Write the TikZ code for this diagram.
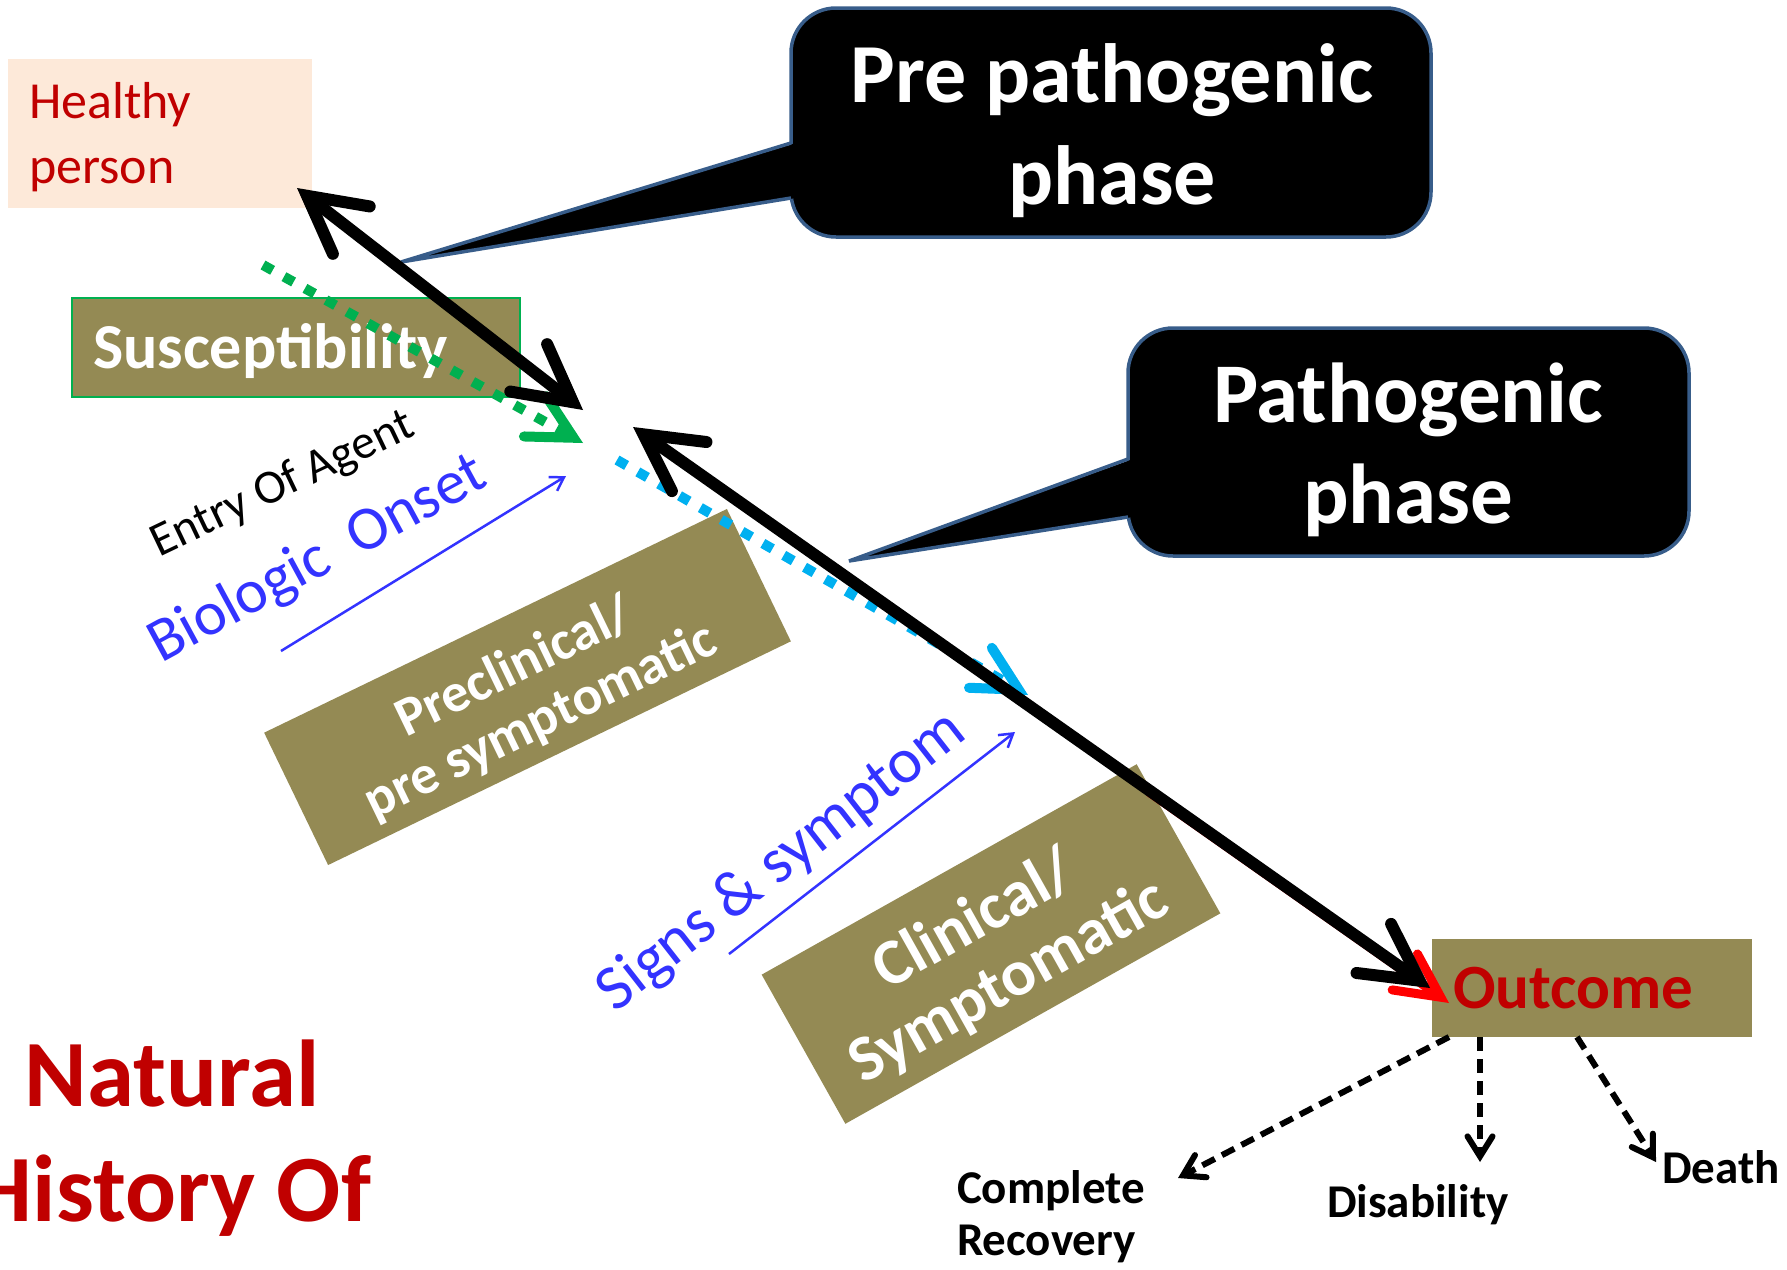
\documentclass[tikz,border=0pt]{standalone}
\usepackage{fontspec}
\setmainfont{Carlito}
\usetikzlibrary{arrows.meta,calc}
\definecolor{nhOlive}{HTML}{948A54}
\definecolor{nhPeach}{HTML}{FDE9D9}
\definecolor{nhRed}{HTML}{C00000}
\definecolor{nhBlue}{HTML}{3333FF}
\definecolor{nhGreen}{HTML}{00B050}
\definecolor{nhCyan}{HTML}{00B0F0}
\definecolor{nhEdge}{HTML}{385D8A}
\newcommand{\nhfs}[2]{\fontsize{#1pt}{#2pt}\selectfont}
\begin{document}
\begin{tikzpicture}[x=1pt,y=-1pt,
  box/.style={inner sep=0pt, outer sep=0pt},
  olivebox/.style={box, fill=nhOlive},
  calloutbox/.style={box, fill=black, draw=nhEdge, line width=3.5pt, rounded corners=45pt},
  calloutedge/.style={draw=nhEdge, line width=3.5pt, line join=miter},
  txt/.style={inner sep=0pt, outer sep=0pt},
  bigarrow/.style={line width=12pt, black, {Straight Barb[length=56pt,width=60pt,line cap=round,line join=miter]}-{Straight Barb[length=56pt,width=60pt,line cap=round,line join=miter]}},
  redarrow/.style={line width=9pt, red, -{Straight Barb[length=44pt,width=44pt,line cap=round,line join=miter]}},
  greendot/.style={line width=10pt, nhGreen, dash pattern=on 11pt off 13pt, -{Straight Barb[length=44pt,width=46pt,line cap=round,line join=miter]}},
  cyandot/.style={line width=10pt, nhCyan, dash pattern=on 11pt off 13pt, -{Straight Barb[length=44pt,width=46pt,line cap=round,line join=miter]}},
  thinblue/.style={line width=2.5pt, nhBlue, -{Straight Barb[length=13pt,width=16pt]}},
  dasharrow/.style={line width=6pt, black, dash pattern=on 14pt off 8pt, -{Straight Barb[length=20pt,width=25pt,line cap=round,line join=miter]}}
]
\useasboundingbox (0,0) rectangle (1787,1269);
\clip (0,0) rectangle (1787,1269);
\fill[white] (0,0) rectangle (1787,1269);

% boxes
\node[box, fill=nhPeach, minimum width=304pt, minimum height=149pt] (healthy) at (160,133.5) {};
\node[olivebox, draw=nhGreen, line width=2pt, minimum width=448pt, minimum height=99pt] (suscept) at (296,347.5) {};
\node[olivebox, rotate=25.8, minimum width=514pt, minimum height=147pt] (precl) at (527.5,687) {};
\node[olivebox, rotate=29.3, minimum width=430pt, minimum height=171pt] (clin) at (991,944) {};
\node[olivebox, minimum width=320pt, minimum height=98pt] (outcome) at (1592,988) {};

% callouts
\node[calloutbox, minimum width=640pt, minimum height=229pt] (prebox) at (1111,122.5) {};
\coordinate (pretip) at (401,262);
\fill[black] ($(prebox.west)+(5,20.5)$) -- (pretip) -- ($(prebox.west)+(5,75.5)$) -- cycle;
\draw[calloutedge] ($(prebox.west)+(0,20.5)$) -- (pretip) -- ($(prebox.west)+(0,75.5)$);

\node[calloutbox, minimum width=561pt, minimum height=228pt] (pathbox) at (1408.5,442) {};
\coordinate (pathtip) at (849,561);
\fill[black] ($(pathbox.west)+(5,17)$) -- (pathtip) -- ($(pathbox.west)+(5,75)$) -- cycle;
\draw[calloutedge] ($(pathbox.west)+(0,17)$) -- (pathtip) -- ($(pathbox.west)+(0,75)$);

% texts
\node[txt, anchor=west, text=nhRed, align=left, font=\nhfs{52}{65}] (healthytxt) at (29,137.3) {Healthy\\person};
\node[txt, anchor=base west, text=white, font=\bfseries\nhfs{64}{70}] (susctxt) at (93,368) {Susceptibility};
\node[txt, text=white, align=center, font=\bfseries\nhfs{84}{102}] (pretxt) at (1112,130.6) {Pre pathogenic\\phase};
\node[txt, text=white, align=center, font=\bfseries\nhfs{85}{101}] (pathtxt) at (1408,450) {Pathogenic\\phase};
\node[txt, rotate=25.5, font=\nhfs{48}{56}] (entry) at (283,485) {Entry Of Agent};
\node[txt, rotate=28.5, text=nhBlue, font=\nhfs{62}{70}] (bio) at (318,560) {Biologic\ \ Onset};
\node[txt, rotate=25.8, text=white, align=center, font=\bfseries\nhfs{55}{60}] (precltxt) at (528,695) {Preclinical/\\pre symptomatic};
\node[txt, rotate=38, text=nhBlue, font=\nhfs{64}{70}] (signs) at (782,862) {Signs \& symptom};
\node[txt, rotate=29.3, text=white, align=center, font=\bfseries\nhfs{65}{70}] (clintxt) at (992,952) {Clinical/\\Symptomatic};
\node[txt, anchor=base west, text=nhRed, font=\bfseries\nhfs{63}{70}] (outtxt) at (1453,1008) {Outcome};
\node[txt, anchor=west, align=left, font=\bfseries\nhfs{47}{52}] (rec) at (957,1217) {Complete\\Recovery};
\node[txt, anchor=base west, font=\bfseries\nhfs{47}{50}] (dis) at (1327,1217) {Disability};
\node[txt, anchor=base west, font=\bfseries\nhfs{47}{50}] (death) at (1662,1183) {Death};
\node[txt, align=center, text=nhRed, font=\bfseries\nhfs{95}{115}] (natural) at (172,1138) {Natural\\History Of};

% thin blue arrows
\coordinate (bo1) at (281,651); \coordinate (bo2) at (566,476);
\draw[thinblue] (bo1) -- (bo2);
\coordinate (ss1) at (729,954); \coordinate (ss2) at (1015,732);
\draw[thinblue] (ss1) -- (ss2);

% dotted arrows
\coordinate (g1) at (263,265); \coordinate (g2) at (583,443);
\draw[greendot] (g1) -- (g2);
\coordinate (c1) at (617,460); \coordinate (c2) at (1028,695);
\draw[cyandot] (c1) -- (c2);

% red arrow under the black one
\coordinate (r1) at (1149,792); \coordinate (r2) at (1449,1003);
\draw[redarrow] (r1) -- (r2);

% black double arrows
\coordinate (k1) at (297,188); \coordinate (k2) at (583,410);
\draw[bigarrow] (k1) -- (k2);
\coordinate (k3) at (633,427); \coordinate (k4) at (1430,988);
\draw[bigarrow] (k3) -- (k4);

% outcome branches
\coordinate (recend) at (1178,1178);
\coordinate (disend) at (1480,1162);
\coordinate (deathend) at (1656,1162);
\draw[dasharrow] ([xshift=17pt]outcome.south west) -- (recend);
\draw[dasharrow] ([xshift=48pt]outcome.south west) -- (disend);
\draw[dasharrow] ([xshift=145pt]outcome.south west) -- (deathend);
\end{tikzpicture}
\end{document}
